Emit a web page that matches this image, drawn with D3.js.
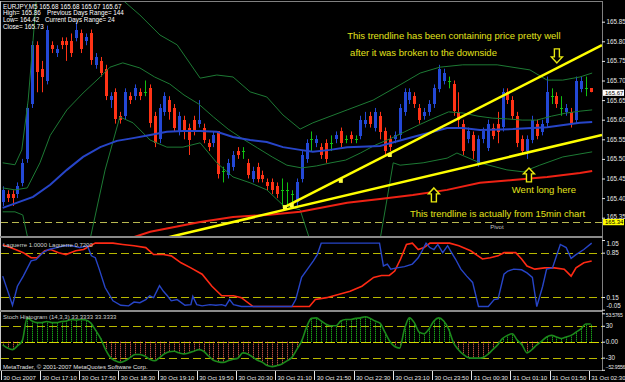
<!DOCTYPE html>
<html><head><meta charset="utf-8">
<script src="https://cdn.jsdelivr.net/npm/d3@7"></script>
<style>
html,body{margin:0;padding:0;background:#000;}
svg{display:block;}
text{font-family:"Liberation Sans",Arial,sans-serif;}
</style></head>
<body><svg id="c" width="625" height="382"></svg>
<script>
// ---------- DATA (EURJPY M5, bars 30 Oct 16:30 .. 31 Oct 02:30) ----------
const open=[165.39,165.41,165.41,165.41,165.44,165.50,165.64,165.79,165.73,165.70,
165.79,165.77,165.80,165.80,165.80,165.81,165.82,165.80,165.82,165.74,
165.75,165.73,165.65,165.67,165.61,165.61,165.66,165.66,165.67,165.67,
165.68,165.61,165.55,165.62,165.65,165.63,165.57,165.60,165.58,165.60,
165.59,165.58,165.54,165.54,165.57,165.47,165.46,165.48,165.52,165.52,
165.49,165.45,165.48,165.46,165.44,165.44,165.43,165.42,165.42,165.41,
165.39,165.45,165.50,165.55,165.54,165.53,165.54,165.54,165.55,165.57,
165.55,165.56,165.55,165.56,165.59,165.61,165.58,165.61,165.57,165.55,
165.55,165.56,165.62,165.65,165.66,165.63,165.61,165.62,165.64,165.68,
165.70,165.70,165.69,165.62,165.59,165.55,165.56,165.49,165.55,165.53,
165.58,165.59,165.58,165.67,165.65,165.61,165.55,165.52,165.55,165.59,
165.57,165.59,165.66,165.66,165.63,165.62,165.62,165.60,165.68,165.68,
165.68];
const high=[165.43,165.42,165.42,165.44,165.50,165.64,165.80,165.80,165.75,165.84,
165.80,165.79,165.81,165.81,165.82,165.85,165.83,165.82,165.83,165.77,
165.76,165.74,165.67,165.68,165.62,165.68,165.67,165.69,165.68,165.70,
165.69,165.62,165.64,165.67,165.66,165.64,165.62,165.61,165.59,165.61,
165.65,165.59,165.55,165.57,165.57,165.48,165.50,165.52,165.53,165.53,
165.50,165.48,165.49,165.47,165.45,165.45,165.44,165.45,165.44,165.42,
165.45,165.52,165.55,165.57,165.56,165.54,165.55,165.56,165.57,165.58,
165.56,165.57,165.56,165.61,165.62,165.62,165.63,165.62,165.58,165.56,
165.57,165.64,165.68,165.68,165.67,165.64,165.63,165.65,165.69,165.74,
165.73,165.71,165.70,165.67,165.60,165.58,165.57,165.56,165.58,165.60,
165.59,165.62,165.68,165.68,165.66,165.62,165.56,165.56,165.61,165.60,
165.60,165.71,165.68,165.67,165.66,165.64,165.63,165.71,165.71,165.71,
165.68];
const low=[165.38,165.39,165.38,165.40,165.43,165.49,165.63,165.67,165.67,165.69,
165.77,165.76,165.78,165.75,165.76,165.80,165.77,165.79,165.74,165.73,
165.71,165.65,165.63,165.59,165.59,165.60,165.64,165.65,165.65,165.66,
165.58,165.53,165.54,165.61,165.60,165.57,165.56,165.55,165.51,165.56,
165.58,165.54,165.52,165.53,165.45,165.44,165.45,165.47,165.50,165.50,
165.45,165.44,165.44,165.44,165.42,165.41,165.40,165.38,165.38,165.38,
165.38,165.44,165.49,165.52,165.53,165.50,165.49,165.52,165.54,165.53,
165.54,165.54,165.54,165.55,165.58,165.58,165.57,165.55,165.51,165.52,
165.54,165.55,165.61,165.64,165.63,165.59,165.60,165.61,165.63,165.67,
165.69,165.68,165.61,165.58,165.51,165.54,165.50,165.48,165.54,165.52,
165.55,165.54,165.57,165.64,165.60,165.53,165.51,165.50,165.54,165.55,
165.56,165.58,165.64,165.63,165.61,165.61,165.58,165.59,165.67,165.66,
165.67];
const close=[165.42,165.40,165.40,165.43,165.49,165.63,165.79,165.72,165.71,165.83,
165.78,165.78,165.79,165.79,165.77,165.83,165.78,165.81,165.75,165.76,
165.72,165.66,165.66,165.60,165.60,165.67,165.65,165.68,165.66,165.67,
165.59,165.54,165.63,165.66,165.62,165.58,165.61,165.57,165.55,165.57,
165.60,165.55,165.53,165.56,165.46,165.47,165.49,165.51,165.51,165.52,
165.46,165.47,165.45,165.45,165.43,165.42,165.41,165.42,165.42,165.41,
165.44,165.51,165.54,165.55,165.55,165.51,165.50,165.54,165.56,165.54,
165.55,165.55,165.55,165.60,165.60,165.59,165.62,165.57,165.52,165.53,
165.56,165.63,165.67,165.67,165.64,165.60,165.62,165.64,165.68,165.73,
165.72,165.70,165.62,165.60,165.52,165.57,165.52,165.55,165.57,165.59,
165.56,165.57,165.67,165.65,165.61,165.54,165.52,165.55,165.60,165.56,
165.59,165.67,165.66,165.64,165.63,165.63,165.59,165.70,165.70,165.68,
165.67];

// Bollinger bands (20): [bar, price]
const bbUpper=[[0,165.490],[2.5,165.485],[3.9,165.523],[5.2,165.650],[6.2,165.803],[7,165.93],[12,165.99],[18,166.02],[24,165.93],[24.5,165.905],
[28,165.867],[32.1,165.816],[35.6,165.791],[40.3,165.706],[43.7,165.714],[47,165.709],[50.5,165.671],[53.9,165.658],[57.2,165.612],[60.7,165.576],
[63.3,165.592],[70.3,165.625],[75.6,165.650],[81.1,165.689],[85.2,165.719],[89.2,165.734],[93.9,165.740],[100.9,165.740],[107.6,165.727],[111.1,165.701],
[114.3,165.701],[117.8,165.709],[120.3,165.719]];
const bbMiddle=[[0,165.426],[2.5,165.421],[5,165.426],[7.6,165.490],[9.7,165.560],[13.1,165.625],[16.4,165.668],[19.9,165.709],[21.9,165.734],[24.5,165.745],
[28,165.732],[31,165.709],[34.1,165.691],[37,165.663],[40,165.640],[43,165.607],[46,165.576],[49,165.551],[52,165.528],[55,165.505],
[58,165.484],[61,165.477],[64,165.482],[67,165.490],[70,165.497],[73,165.515],[76,165.535],[79,165.551],[82,165.569],[85,165.587],
[88,165.604],[91,165.620],[94,165.617],[97,165.609],[100,165.604],[103,165.602],[106,165.599],[109,165.599],[112,165.609],[115,165.617],
[118,165.622],[120.3,165.625]];
const bbLower=[[0,165.365],[2.5,165.365],[4.1,165.357],[5.2,165.293],[6,165.217],[16.4,165.217],[17.8,165.293],[20.9,165.472],[23.9,165.607],[26.6,165.592],
[30.1,165.548],[33.5,165.530],[36.8,165.530],[40.3,165.541],[43.7,165.490],[47,165.454],[50.5,165.439],[53.9,165.421],[57.2,165.382],[60.7,165.370],
[62.7,165.293],[64.4,165.217],[75.4,165.217],[77,165.293],[79.7,165.490],[81.1,165.484],[85.8,165.490],[90.7,165.502],[92.7,165.515],[97.4,165.490],
[102.9,165.472],[106.2,165.467],[109.6,165.484],[114.3,165.505],[120.3,165.518]];
const maBlue=[[0,165.375],[6.2,165.403],[9.7,165.434],[13.1,165.472],[16.4,165.505],[19.9,165.530],[23.3,165.546],[26.6,165.553],[30.1,165.561],[33.5,165.569],
[36.8,165.571],[40.3,165.571],[43.7,165.569],[47,165.556],[50.5,165.548],[53.9,165.543],[57.2,165.530],[60.7,165.523],[63.3,165.518],[66.8,165.523],
[70.3,165.530],[77,165.533],[83.7,165.556],[90.7,165.579],[93.9,165.579],[97.4,165.574],[104.1,165.576],[111.1,165.581],[117.8,165.592],[120.3,165.594]];
const maRed=[[19.9,165.242],[24.9,165.293],[30.1,165.314],[40.3,165.339],[47,165.352],[53.9,165.357],[60.7,165.365],[70.3,165.388],[77,165.398],[83.7,165.408],
[90.7,165.421],[97.4,165.439],[104.1,165.446],[111.1,165.454],[117.8,165.464],[120.3,165.469]];

// Laguerre (blue = 1.0, red = 0.72): [bar, value]
const lagBlue=[[0,.48],[2,.02],[3,.32],[4.2,.48],[5.8,.72],[6.8,.74],[8.2,.85],[9.4,.90],[11,.93],[12.6,.96],[14.1,.96],[15.7,.93],[17.3,.96],[18.1,.80],[18.9,.77],[19.7,.59],[20.9,.30],[22.5,.09],[24.1,.02],[25.7,.01],[26.8,.07],[28,.06],[29.2,.11],[30,.17],[30.8,.14],[32,.33],[32.8,.24],[33.6,.17],[34.4,.09],[35.6,.11],[37.2,.02],[38.4,.03],[38.8,.16],[39.6,.03],[40.7,.01],[42.3,.03],[43.5,.02],[44.7,.03],[45.5,.01],[46.3,.11],[47.1,.03],[48.7,0],[59,0],[59.8,.11],[61,.46],[62.2,.59],[63.4,.72],[64.2,.82],[65,1],[76.9,1],[77.7,.64],[78.5,.67],[79.2,.59],[80.4,.61],[82,.63],[83.6,.67],[84.8,.77],[85.6,.88],[86.4,1],[87.2,.93],[88,.90],[88.8,.98],[89.8,.85],[90.8,.96],[91.6,.85],[92.4,.75],[93.5,.59],[94.7,.48],[95.9,.38],[97.1,0],[99.1,0],[100.3,.11],[101.1,.12],[102.3,.51],[103.1,.56],[104.3,.59],[105.9,.58],[107,.53],[108.1,.46],[109,0],[110.2,.32],[111,.59],[112.2,.61],[113.8,.98],[115,.93],[116,.76],[117,.82],[118.6,.90],[120.2,1]];
const lagRed=[[0,.97],[0.6,.96],[2.6,.90],[4.2,.85],[5.8,.77],[7,.77],[8.6,.88],[9.8,.90],[11.4,.85],[12.9,.82],[14.9,.88],[16.5,.90],[18.9,1],[22.5,1],[24.5,.98],[26.8,.96],[29.2,.93],[30.8,.82],[32.8,.82],[34.4,.80],[36.4,.69],[38.4,.61],[40.7,.51],[42.7,.32],[44.7,.17],[47.1,.17],[48.7,.14],[51.1,0],[62.6,0],[63.8,.11],[66.1,.14],[68.5,.19],[70.9,.24],[73.3,.32],[75.7,.46],[77.3,.49],[78.9,.49],[80,.56],[81.2,.75],[82.4,.98],[83.6,1],[84.8,.90],[86,.93],[87.2,1],[91.2,1],[93.1,.96],[95.5,.88],[97.9,.75],[99.5,.77],[101.1,.80],[102.3,.85],[104.7,.85],[105.9,.75],[107,.64],[108.6,.59],[110.6,.61],[112.6,.61],[114.6,.59],[116,.48],[117,.61],[118.6,.69],[120.2,.72]];
const lagLevels=[0.85,0.15];
const lagTicks=[1.05,0.85,0.15,-0.05];

// Stoch histogram (14,3,3), one value per bar
const stochHist=[-6,-12,-15,-8,2,45,39,36,36,38,
36,36,38,39,42,41,42,41,35,21,
6,-15,-30,-36,-39,-36,-30,-24,-24,-27,
-33,-36,-30,-23,-19,-18,-21,-23,-21,-18,
-15,-18,-27,-35,-38,-39,-36,-33,-31,-21,
-23,-29,-35,-39,-45,-47,-45,-42,-36,-30,
-15,1,27,44,45,39,33,30,30,39,
42,42,44,45,47,44,39,35,18,1,
-9,-12,24,45,36,18,15,24,39,45,
39,24,-2,-15,-24,-30,-31,-31,-30,-24,
-15,-6,6,12,15,3,-6,-21,-15,-6,
1,9,12,9,6,9,12,18,24,33.3333,
33.3333];
const stochLevels=[30,0,-30];
const stochTicks=[53.5765,30,0,-30,-52.9556];

const priceTicks=[165.35,165.40,165.45,165.50,165.55,165.60,165.65,165.70,165.75,165.80,165.85];
const timeTickBars=[0,8,16,24,32,40,48,56,64,72,80,88,96,104,112,120];
const timeLabels=["30 Oct 2007","30 Oct 17:10","30 Oct 17:50","30 Oct 18:30","30 Oct 19:10","30 Oct 19:50","30 Oct 20:30","30 Oct 21:10",
"30 Oct 21:50","30 Oct 22:30","30 Oct 23:10","30 Oct 23:50","31 Oct 00:30","31 Oct 01:10","31 Oct 01:50","31 Oct 02:30"];
const pivot=165.34;
const lastPrice=165.67;

// chart objects drawn by the trader
const trendSteep=[[57.2,165.375],[122.3,165.79]];
const trendLower=[[33.1,165.298],[122.3,165.561]];
const trendMarks=[[57.6,165.377],[59.0,165.382],[69.0,165.444],[79.0,165.51]];
const arrows=[{i:113.1,p:165.745,dir:1},{i:107.4,p:165.477,dir:-1},{i:88.0,p:165.426,dir:-1}];
const notes=[
 {i:70.3,p:165.805,t:"This trendline has been containing price pretty well"},
 {i:70.9,p:165.762,t:"after it was broken to the downside"},
 {i:103.9,p:165.412,t:"Went long here"},
 {i:83.1,p:165.353,t:"This trendline is actually from 15min chart"}];
const header=[
 {x:3,y:8.5,t:"EURJPY,M5  165.68 165.68 165.67 165.67"},
 {x:3,y:15,t:"High= 165.86"},{x:47,y:15,t:"Previous Days Range= 144"},
 {x:3,y:21.5,t:"Low= 164.42"},{x:45,y:21.5,t:"Current Days Range= 24"},
 {x:3,y:29,t:"Close= 165.73"}];

// ---------- SCALES ----------
const x=d3.scaleLinear().domain([0,120]).range([2.7,590.7]);
const yP=d3.scaleLinear().domain([165.35,165.85]).range([217.7,21.7]);
const yL=d3.scaleLinear().domain([-0.05,1.05]).range([309.7,240]);
const yS=d3.scaleLinear().domain([-52.9556,53.5765]).range([369.8,313.3]);
const px=i=>Math.round(x(i))+0.5;

const svg=d3.select("#c");
svg.append("rect").attr("width",625).attr("height",382).attr("fill","#000");
const defs=svg.append("defs");
function clip(id,x0,y0,w,h){defs.append("clipPath").attr("id",id).append("rect").attr("x",x0).attr("y",y0).attr("width",w).attr("height",h);}
clip("cMain",1,2,601,234);clip("cLag",1,239,601,71);clip("cSto",1,312,601,58);

const AX="#e6e6e6", GRID="#808080", LVL="#b8b800";

// ---------- MAIN PANE ----------
const gM=svg.append("g").attr("clip-path","url(#cMain)");
gM.append("line").attr("x1",1).attr("x2",602).attr("y1",Math.round(yP(pivot))+0.5).attr("y2",Math.round(yP(pivot))+0.5)
 .attr("stroke","#b8b850").attr("stroke-dasharray","7,4");
gM.append("text").attr("x",x(99.5)).attr("y",yP(165.321)).attr("fill","#c0c0c0").attr("font-size","6px").text("Pivot");

const idx=d3.range(close.length);
const cCol=i=>close[i]>open[i]?"#2348d6":close[i]<open[i]?"#ff3316":"#10c010";
gM.selectAll("line.wick").data(idx).enter().append("line").attr("class","wick")
 .attr("x1",px).attr("x2",px).attr("y1",i=>yP(high[i])).attr("y2",i=>yP(low[i])).attr("stroke",cCol).attr("stroke-width",1);
gM.selectAll("rect.body").data(idx).enter().append("rect").attr("class","body")
 .attr("x",i=>Math.round(x(i))-1).attr("width",3)
 .attr("y",i=>Math.round(yP(Math.max(open[i],close[i]))))
 .attr("height",i=>Math.max(1,Math.round(Math.abs(yP(open[i])-yP(close[i])))))
 .attr("fill",cCol);

const lineP=d3.line().x(d=>x(d[0])).y(d=>yP(d[1]));
[bbUpper,bbMiddle,bbLower].forEach(s=>gM.append("path").attr("d",lineP(s)).attr("fill","none").attr("stroke","#1d7a34").attr("stroke-width",1));
gM.append("path").attr("d",lineP(maBlue)).attr("fill","none").attr("stroke","#2745c8").attr("stroke-width",2);
gM.append("path").attr("d",lineP(maRed)).attr("fill","none").attr("stroke","#ee2214").attr("stroke-width",2);

// trader objects
[trendSteep,trendLower].forEach(s=>gM.append("path").attr("d",lineP(s)).attr("fill","none").attr("stroke","#ffff00").attr("stroke-width",2.5));
gM.selectAll("rect.mk").data(trendMarks).enter().append("rect").attr("class","mk")
 .attr("x",d=>x(d[0])-2).attr("y",d=>yP(d[1])-2).attr("width",4).attr("height",4).attr("fill","#ffff40");
function arrowPath(tx,ty,dir){const hl=6,hw=5.5,sw=2.5,L=14;const s=-dir;
 return d3.line()([[tx,ty],[tx+hw,ty+s*hl],[tx+sw,ty+s*hl],[tx+sw,ty+s*L],[tx-sw,ty+s*L],[tx-sw,ty+s*hl],[tx-hw,ty+s*hl]])+"Z";}
gM.selectAll("path.arr").data(arrows).enter().append("path").attr("class","arr")
 .attr("d",d=>arrowPath(x(d.i),yP(d.p),d.dir)).attr("fill","#000").attr("stroke","#e8e810").attr("stroke-width",1.4);
gM.selectAll("text.note").data(notes).enter().append("text").attr("class","note")
 .attr("x",d=>x(d.i)).attr("y",d=>yP(d.p)).attr("fill","#e2e21c").attr("font-size","9.5px").text(d=>d.t);
svg.selectAll("text.hdr").data(header).enter().append("text").attr("class","hdr")
 .attr("x",d=>d.x).attr("y",d=>d.y).attr("fill","#ffffff").attr("font-size","6.3px").text(d=>d.t);

// ---------- LAGUERRE PANE ----------
const gL=svg.append("g").attr("clip-path","url(#cLag)");
gL.selectAll("line.lv").data(lagLevels).enter().append("line").attr("class","lv")
 .attr("x1",1).attr("x2",602).attr("y1",d=>Math.round(yL(d))+0.5).attr("y2",d=>Math.round(yL(d))+0.5)
 .attr("stroke",LVL).attr("stroke-dasharray","8,4");
const lineL=d3.line().x(d=>x(d[0])).y(d=>yL(d[1]));
gL.append("path").attr("d",lineL(lagRed)).attr("fill","none").attr("stroke","#ff2a14").attr("stroke-width",1.6);
gL.append("path").attr("d",lineL(lagBlue)).attr("fill","none").attr("stroke","#2745c8").attr("stroke-width",1.4);
svg.append("text").attr("x",3).attr("y",247).attr("fill","#d0d0d0").attr("font-size","6px").text("Laguerre 1.0000  Laguerre 0.7200");

// ---------- STOCH PANE ----------
const gS=svg.append("g").attr("clip-path","url(#cSto)");
gS.selectAll("line.sl").data(stochLevels).enter().append("line").attr("class","sl")
 .attr("x1",1).attr("x2",602).attr("y1",d=>Math.round(yS(d))+0.5).attr("y2",d=>Math.round(yS(d))+0.5)
 .attr("stroke",d=>d===0?"#d8d800":LVL).attr("stroke-dasharray",d=>d===0?"10,2":"8,4");
gS.selectAll("line.hb").data(idx).enter().append("line").attr("class","hb")
 .attr("x1",px).attr("x2",px).attr("y1",yS(0)).attr("y2",i=>yS(stochHist[i]))
 .attr("stroke",i=>stochHist[i]>=0?"#22e022":"#ff6a5a").attr("stroke-width",1).attr("stroke-dasharray","1,1");
gS.append("path").attr("d",d3.line().x(i=>x(i)).y(i=>yS(stochHist[i])).curve(d3.curveMonotoneX)(idx))
 .attr("fill","none").attr("stroke","#1c8a1c").attr("stroke-width",1.6);
svg.append("text").attr("x",3).attr("y",319).attr("fill","#d0d0d0").attr("font-size","6px").text("Stoch Histogram (14,3,3) 33.3333 33.3333");
svg.append("text").attr("x",3).attr("y",368.5).attr("fill","#e0e0e0").attr("font-size","6px").text("MetaTrader, \u00a9 2001-2007 MetaQuotes Software Corp.");

// ---------- FRAMES ----------
const fr=svg.append("g").attr("stroke",GRID).attr("fill","none");
fr.append("line").attr("x1",0).attr("x2",603).attr("y1",1.5).attr("y2",1.5);
fr.append("line").attr("x1",0.5).attr("x2",0.5).attr("y1",1).attr("y2",371).attr("stroke","#c8c8c8");
fr.append("line").attr("x1",602.5).attr("x2",602.5).attr("y1",1).attr("y2",371);
fr.append("rect").attr("x",0).attr("y",236).attr("width",603).attr("height",2).attr("fill","#8a8a8a").attr("stroke","none");
fr.append("rect").attr("x",0).attr("y",310).attr("width",603).attr("height",2).attr("fill","#8a8a8a").attr("stroke","none");
fr.append("line").attr("x1",0).attr("x2",603).attr("y1",370.5).attr("y2",370.5);

// ---------- AXES ----------
function rightAxis(scale,vals,fmt,yOff,fs,ls,pad){
 const g=svg.append("g").attr("transform","translate(602,0)");
 const ax=d3.axisRight(scale).tickValues(vals).tickFormat(fmt).tickSize(3).tickPadding(pad==null?1.5:pad);
 g.call(ax);
 g.select(".domain").remove();
 g.selectAll(".tick line").attr("stroke",AX);
 g.selectAll(".tick text").attr("fill",AX).attr("font-size",(d,i)=>fs?fs(d,i):"6.3px")
  .attr("letter-spacing",(d,i)=>ls?ls(d,i):null)
  .attr("font-family","Liberation Sans, Arial, sans-serif")
  .attr("dy",(d,i)=>(0.32+(yOff?yOff(d,i):0))+"em");
 return g;
}
rightAxis(yP,priceTicks,d3.format(".2f"),(d,i)=>i===0?-0.2:0);
rightAxis(yL,lagTicks,d=>d===-0.05?"-0.05":d3.format(".2f")(d),(d,i)=>i===0?0.6:i===3?-0.6:0);
rightAxis(yS,stochTicks,d=>d===0?"0.00":(Number.isInteger(d)?String(d):d3.format(".4f")(d)),
 (d,i)=>i===0?0.3:i===4?-0.5:0,
 (d,i)=>(i===0||i===4)?"5.1px":"6.3px",
 (d,i)=>(i===0||i===4)?"-0.25px":null, 0.8);

// price tags
function tag(v,bg){const g=svg.append("g");const yy=yP(v);
 g.append("rect").attr("x",603).attr("y",yy-2.6).attr("width",21).attr("height",6.2).attr("fill",bg);
 g.append("text").attr("x",605).attr("y",yy+2.4).attr("fill","#000").attr("font-size","6px").text(d3.format(".2f")(v));}
tag(lastPrice,"#ffffff");
tag(pivot,"#ffff00");

// time axis
const gT=svg.append("g");
gT.selectAll("line.tt").data(timeTickBars).enter().append("line").attr("class","tt")
 .attr("x1",d=>Math.round(x(d))-1.5).attr("x2",d=>Math.round(x(d))-1.5).attr("y1",371).attr("y2",380).attr("stroke",AX);
gT.selectAll("text.tl").data(timeTickBars).enter().append("text").attr("class","tl")
 .attr("x",d=>x(d)+0.5).attr("y",380).attr("fill",AX).attr("font-size","6px").text((d,i)=>timeLabels[i]);
</script></body></html>
